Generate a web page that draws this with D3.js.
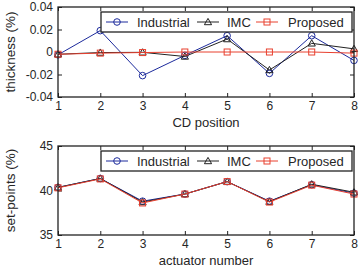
<!DOCTYPE html>
<html><head><meta charset="utf-8">
<script src="https://cdn.jsdelivr.net/npm/d3@7"></script>
<style>body{margin:0;background:#fff}svg{display:block}text{font-family:"Liberation Sans",Arial,sans-serif}</style>
</head><body><svg id="c" width="360" height="268"></svg>
<script>
const positions = [1,2,3,4,5,6,7,8];
const thickIndustrial = [-0.0025, 0.019, -0.021, -0.003, 0.0145, -0.019, 0.0145, -0.0075];
const thickIMC = [-0.002, -0.0005, -0.0003, -0.004, 0.0115, -0.016, 0.0077, 0.0028];
const thickProposed = [-0.002, -0.001, -0.0005, 0, 0, 0, 0, -0.001];
const spIndustrial = [40.35, 41.35, 38.8, 39.6, 41.0, 38.8, 40.65, 39.7];
const spIMC = [40.35, 41.35, 38.7, 39.6, 41.0, 38.75, 40.7, 39.8];
const spProposed = [40.3, 41.3, 38.6, 39.6, 41.0, 38.7, 40.6, 39.6];
const thickTicks = [-0.04, -0.02, 0, 0.02, 0.04];
const thickTickLabels = ["-0.04", "-0.02", "0", "0.02", "0.04"];
const spTicks = [35, 40, 45];
const seriesNames = ["Industrial", "IMC", "Proposed"];
const colors = {Industrial: "#1c2a9c", IMC: "#222222", Proposed: "#e8402f"};
const markers = {Industrial: "circle", IMC: "triangle", Proposed: "square"};

const svg = d3.select("#c");

function drawMarker(g, type, x, y, color) {
  if (type === "circle") {
    g.append("circle").attr("cx", x).attr("cy", y).attr("r", 3.3)
      .attr("fill", "none").attr("stroke", color).attr("stroke-width", 1);
  } else if (type === "triangle") {
    const s = 3.6;
    g.append("path").attr("d", `M${x},${y - s}L${x + s},${y + s * 0.75}L${x - s},${y + s * 0.75}Z`)
      .attr("fill", "none").attr("stroke", color).attr("stroke-width", 1);
  } else {
    g.append("rect").attr("x", x - 3).attr("y", y - 3).attr("width", 6).attr("height", 6)
      .attr("fill", "none").attr("stroke", color).attr("stroke-width", 1);
  }
}

function panel(opts) {
  const {top, bottom, left, right, domain, ticks, tickFmt, data, xlabel, ylabel, legendTop} = opts;
  const x = d3.scaleLinear().domain([1, 8]).range([left, right]);
  const y = d3.scaleLinear().domain(domain).range([bottom, top]);
  const g = svg.append("g");

  const ax = g.append("g").attr("transform", `translate(0,${bottom})`)
    .call(d3.axisBottom(x).tickValues(positions).tickFormat(d3.format("d")).tickSize(-4).tickPadding(4));
  const axTop = g.append("g").attr("transform", `translate(0,${top})`)
    .call(d3.axisTop(x).tickValues(positions).tickFormat("").tickSize(-4));
  const ay = g.append("g").attr("transform", `translate(${left},0)`)
    .call(d3.axisLeft(y).tickValues(ticks).tickFormat((d, i) => tickFmt[i]).tickSize(-4).tickPadding(5));
  const ayR = g.append("g").attr("transform", `translate(${right},0)`)
    .call(d3.axisRight(y).tickValues(ticks).tickFormat("").tickSize(-4));
  [ax, axTop, ay, ayR].forEach(a => {
    a.selectAll("path").remove();
    a.selectAll("line").attr("stroke", "#222").attr("stroke-width", 1);
    a.selectAll("text").attr("font-size", 12).attr("fill", "#262626")
      .style("font-family", "'Liberation Sans', Arial, sans-serif");
  });

  seriesNames.forEach(name => {
    const vals = data[name];
    const line = d3.line().x((d, i) => x(positions[i])).y(d => y(d));
    g.append("path").datum(vals).attr("d", line).attr("fill", "none")
      .attr("stroke", colors[name]).attr("stroke-width", 1);
    vals.forEach((v, i) => drawMarker(g, markers[name], x(positions[i]), y(v), colors[name]));
  });

  g.append("rect").attr("x", left).attr("y", top).attr("width", right - left).attr("height", bottom - top)
    .attr("fill", "none").attr("stroke", "#222").attr("stroke-width", 1.3);

  const lg = g.append("g");
  lg.append("rect").attr("x", 101).attr("y", legendTop).attr("width", 251).attr("height", 20)
    .attr("fill", "#fff").attr("stroke", "#222").attr("stroke-width", 1.3);
  const items = [
    {name: "Industrial", x0: 106, x1: 128, tx: 137},
    {name: "IMC", x0: 197, x1: 219, tx: 227},
    {name: "Proposed", x0: 256, x1: 278, tx: 288}
  ];
  const ly = legendTop + 10;
  items.forEach(it => {
    lg.append("line").attr("x1", it.x0).attr("x2", it.x1).attr("y1", ly).attr("y2", ly)
      .attr("stroke", colors[it.name]).attr("stroke-width", 1);
    drawMarker(lg, markers[it.name], (it.x0 + it.x1) / 2, ly, colors[it.name]);
    lg.append("text").attr("x", it.tx).attr("y", ly + 4.5).attr("font-size", 13).attr("fill", "#262626").text(it.name);
  });

  g.append("text").attr("x", (left + right) / 2).attr("y", bottom + 30).attr("text-anchor", "middle")
    .attr("font-size", 13).attr("fill", "#262626").text(xlabel);
  g.append("text").attr("transform", `translate(${left - 43},${(top + bottom) / 2}) rotate(-90)`)
    .attr("text-anchor", "middle").attr("font-size", 13.5).attr("fill", "#262626").text(ylabel);
}

panel({top: 7, bottom: 97, left: 58, right: 354, domain: [-0.04, 0.04], ticks: thickTicks,
  tickFmt: thickTickLabels,
  data: {Industrial: thickIndustrial, IMC: thickIMC, Proposed: thickProposed},
  xlabel: "CD position", ylabel: "thickness (%)", legendTop: 12});

panel({top: 146, bottom: 235, left: 58, right: 354, domain: [35, 45], ticks: spTicks,
  tickFmt: spTicks.map(String),
  data: {Industrial: spIndustrial, IMC: spIMC, Proposed: spProposed},
  xlabel: "actuator number", ylabel: "set-points (%)", legendTop: 151});
</script></body></html>
